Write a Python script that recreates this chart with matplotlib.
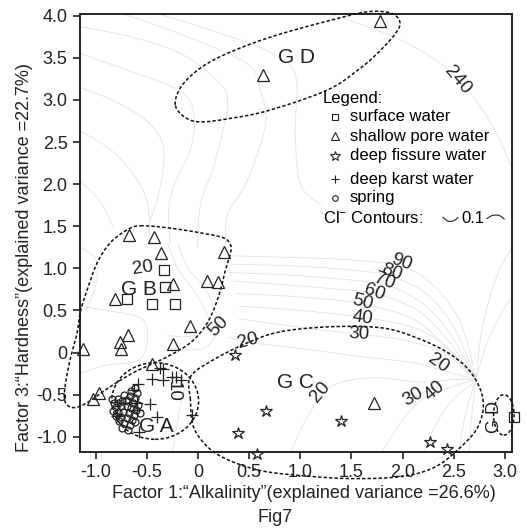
import numpy as np
import matplotlib
matplotlib.use("Agg")
import matplotlib.pyplot as plt
from matplotlib.patches import Ellipse
from matplotlib.ticker import FixedLocator, FixedFormatter

plt.rcParams['font.family'] = ['Liberation Sans', 'DejaVu Sans']
plt.rcParams['mathtext.fontset'] = 'custom'
plt.rcParams['mathtext.rm'] = 'Liberation Sans'

# ---------------- data ----------------
surface_x = [-0.337, -0.327, -0.70, -0.45, -0.23, 3.09]
surface_y = [0.975, 0.78, 0.64, 0.58, 0.58, -0.76]

shallow_x = [1.78, 0.63, -0.68, -0.435, -0.36, 0.25, -0.25, 0.088, 0.19, -0.81,
             -0.075, -0.69, -0.76, -0.755, -0.25, -1.13, -0.45, -0.97, -1.03, 1.72]
shallow_y = [3.94, 3.29, 1.40, 1.37, 1.18, 1.19, 0.82, 0.845, 0.84, 0.64,
             0.31, 0.21, 0.12, 0.04, 0.105, 0.04, -0.14, -0.48, -0.55, -0.60]

fissure_x = [0.36, 0.66, 0.39, 0.58, 1.40, 2.27, 2.43]
fissure_y = [-0.025, -0.69, -0.95, -1.20, -0.81, -1.065, -1.15]

karst_x = [-0.37, -0.34, -0.45, -0.34, -0.26, -0.22, -0.17, -0.59, -0.47, -0.40,
           -0.06, -0.60, -0.60, -0.79, -0.58, -0.63]
karst_y = [-0.18, -0.20, -0.31, -0.33, -0.29, -0.29, -0.32, -0.37, -0.61, -0.76,
           -0.74, -0.60, -0.68, -0.75, -0.94, -0.44]

spring_x = [-0.62, -0.66, -0.60, -0.72, -0.67, -0.62, -0.78, -0.74, -0.69, -0.64,
            -0.59, -0.82, -0.80, -0.75, -0.70, -0.66, -0.61, -0.83, -0.78, -0.73,
            -0.68, -0.63, -0.80, -0.75, -0.70, -0.65, -0.77, -0.72, -0.67, -0.62,
            -0.74, -0.69, -0.84, -0.78, -0.71, -0.57]
spring_y = [-0.42, -0.46, -0.48, -0.50, -0.52, -0.54, -0.55, -0.57, -0.58, -0.60,
            -0.62, -0.60, -0.65, -0.63, -0.64, -0.66, -0.68, -0.69, -0.70, -0.70,
            -0.72, -0.74, -0.75, -0.76, -0.78, -0.80, -0.81, -0.84, -0.86, -0.83,
            -0.89, -0.92, -0.55, -0.60, -0.56, -0.72]

x_ticks = [-1.0, -0.5, 0, 0.5, 1.0, 1.5, 2.0, 2.5, 3.0]
x_ticklabels = ["-1.0", "-0.5", "0", "0.5", "1.0", "1.5", "2.0", "2.5", "3.0"]
y_ticks = [-1.0, -0.5, 0, 0.5, 1.0, 1.5, 2.0, 2.5, 3.0, 3.5, 4.0]
y_ticklabels = ["-1.0", "-0.5", "0", "0.5", "1.0", "1.5", "2.0", "2.5", "3.0", "3.5", "4.0"]

# group outlines (closed smooth curves through these points)
gd_outline = [(-0.223, 2.941), (-0.174, 3.142), (-0.027, 3.332), (0.170, 3.486), (0.464, 3.641),
              (0.807, 3.783), (1.268, 3.937), (1.640, 4.044), (1.885, 4.032), (1.974, 3.925),
              (1.935, 3.795), (1.787, 3.593), (1.591, 3.380), (1.268, 3.119), (0.709, 2.881),
              (0.346, 2.786), (0.023, 2.739), (-0.134, 2.798)]
gb_outline = [(-0.565, 1.505), (-0.301, 1.482), (0.023, 1.422), (0.248, 1.363), (0.317, 1.280),
              (0.317, 1.185), (0.268, 0.983), (0.199, 0.663), (0.091, 0.354), (-0.075, 0.117),
              (-0.301, -0.049), (-0.448, -0.132), (-0.634, -0.239), (-0.860, -0.405),
              (-1.085, -0.595), (-1.222, -0.654), (-1.301, -0.583), (-1.301, -0.405),
              (-1.252, -0.085), (-1.183, 0.235), (-1.154, 0.472), (-1.085, 0.745),
              (-0.987, 1.066), (-0.860, 1.303), (-0.693, 1.458)]
gc_outline = [(-0.075, -0.559), (-0.075, -0.287), (0.151, -0.085), (0.484, 0.117), (0.807, 0.248),
              (1.297, 0.307), (1.787, 0.295), (2.111, 0.188), (2.444, -0.002), (2.670, -0.239),
              (2.787, -0.559), (2.738, -0.880), (2.542, -1.152), (2.307, -1.365), (1.983, -1.472),
              (1.493, -1.496), (1.003, -1.460), (0.611, -1.401), (0.288, -1.271), (0.091, -1.117),
              (-0.046, -0.880)]
ga_ellipse = (-0.42, -0.575, 0.85, 0.91)      # cx, cy, width, height
gd2_ellipse = (2.99, -0.74, 0.20, 0.48)

# Cl- contour lines
contour_lines = [
    [(-1.154, 3.87), (-0.66, 3.75), (-0.17, 3.55), (0.22, 3.19), (0.29, 2.95), (0.25, 2.68), (0.15, 2.2), (0.023, 1.76), (-0.006, 1.25)],
    [(-1.154, 3.55), (-0.66, 3.34), (-0.17, 3.1), (-0.04, 2.83), (-0.07, 2.44), (-0.24, 1.97), (-0.29, 1.65), (-0.27, 1.29)],
    [(-1.154, 3.15), (-0.83, 2.99), (-0.5, 2.75), (-0.34, 2.44), (-0.37, 1.97), (-0.47, 1.56)],
    [(-1.154, 2.63), (-0.89, 2.44), (-0.66, 2.16), (-0.5, 1.8), (-0.47, 1.29)],
    [(-1.154, 2.04), (-0.96, 1.8), (-0.83, 1.49)],
    [(-0.73, 4.02), (-0.17, 3.78), (0.48, 3.43), (0.61, 3.1), (0.66, 2.71), (0.48, 2.04), (0.29, 1.65), (0.27, 1.28)],
    [(-0.39, 4.02), (0.15, 3.82), (0.68, 3.58), (0.95, 3.3), (0.95, 2.6), (1.0, 2.0), (1.2, 1.75)],
    [(1.3, 4.02), (2.0, 3.7), (2.5, 3.3), (2.85, 2.75), (3.07, 2.2)],
    [(0.3, 1.15), (0.9, 1.13), (1.5, 1.1), (2.0, 1.02), (2.3, 0.8), (2.55, 0.4), (2.68, -0.1), (2.72, -0.32)],
    [(0.3, 1.05), (0.9, 1.03), (1.5, 0.98), (1.9, 0.9), (2.25, 0.68), (2.5, 0.3), (2.65, -0.1), (2.72, -0.32)],
    [(0.3, 0.95), (0.9, 0.92), (1.5, 0.86), (1.85, 0.8), (2.2, 0.58), (2.45, 0.25), (2.62, -0.1), (2.72, -0.32)],
    [(0.35, 0.85), (0.9, 0.8), (1.5, 0.74), (1.75, 0.7), (2.15, 0.5), (2.42, 0.18), (2.6, -0.12), (2.72, -0.32)],
    [(0.38, 0.7), (1.0, 0.66), (1.6, 0.58), (2.1, 0.4), (2.38, 0.12), (2.58, -0.15), (2.72, -0.32)],
    [(0.4, 0.55), (1.0, 0.5), (1.6, 0.42), (2.1, 0.3), (2.4, 0.1), (2.6, -0.15), (2.72, -0.32)],
    [(0.4, 0.4), (1.0, 0.3), (1.55, 0.22), (2.0, 0.15), (2.4, 0.0), (2.6, -0.2), (2.72, -0.32)],
    [(0.3, 0.18), (0.5, 0.12), (1.0, 0.05), (1.6, -0.05), (2.1, -0.12), (2.5, -0.25), (2.72, -0.32)],
    [(0.9, -1.18), (1.1, -0.7), (1.3, -0.4), (1.7, -0.3), (2.2, -0.35), (2.5, -0.32), (2.72, -0.32)],
    [(1.8, -1.18), (2.0, -0.8), (2.2, -0.55), (2.45, -0.42), (2.72, -0.32)],
    [(2.2, -1.18), (2.35, -0.8), (2.5, -0.55), (2.65, -0.4), (2.72, -0.32)],
    [(2.55, -1.18), (2.62, -0.7), (2.72, -0.32)],
    [(2.65, -1.18), (2.68, -0.7), (2.72, -0.32)],
    [(2.72, -0.32), (2.78, 0.3), (2.92, 0.9), (3.07, 1.25)],
    [(2.72, -0.32), (2.82, 0.1), (2.98, 0.5), (3.07, 0.65)],
    [(-1.154, 1.25), (-1.0, 1.1), (-1.0, 0.8), (-1.1, 0.5)],
    [(-0.3, 1.3), (-0.2, 1.0), (-0.05, 0.75), (0.05, 0.55), (0.1, 0.35), (-0.05, 0.2), (-0.3, 0.2)],
    [(-0.2, 1.3), (-0.1, 1.0), (0.05, 0.8), (0.15, 0.55), (0.2, 0.3), (0.05, 0.05), (-0.3, 0.05)],
    [(-1.154, -0.25), (-0.9, -0.15), (-0.6, -0.1), (-0.5, 0.1), (-0.55, 0.4), (-0.9, 0.5), (-1.154, 0.55)],
    [(-0.05, -0.2), (-0.15, -0.5), (-0.2, -0.8), (-0.25, -1.18)],
]

contour_labels = ["240", "90", "80", "70", "60", "50", "40", "30", "20", "20", "50", "20", "30", "40", "10", "20"]
contour_label_x = [2.54, 1.99, 1.89, 1.82, 1.72, 1.61, 1.61, 1.57, 2.35, 0.49, 0.20, 1.20, 2.10, 2.31, -0.24, -0.54]
contour_label_y = [3.24, 1.07, 0.95, 0.84, 0.72, 0.60, 0.41, 0.22, -0.13, 0.14, 0.31, -0.47, -0.53, -0.45, -0.46, 1.00]
contour_label_rot = [-50, -20, -20, -20, -20, -15, -8, -3, -35, 15, 45, 50, 30, 40, -90, 8]

group_labels = ["G D", "G B", "G C", "G A", "G D"]
group_label_x = [0.967, -0.58, 0.95, -0.41, 2.90]
group_label_y = [3.50, 0.745, -0.35, -0.88, -0.77]
group_label_rot = [0, 0, 0, 0, 90]


def smooth_closed(pts, n=24):
    P = np.asarray(pts, float)
    m = len(P)
    t = np.linspace(0, 1, n, endpoint=False)[:, None]
    segs = []
    for i in range(m):
        p0, p1, p2, p3 = P[i - 1], P[i], P[(i + 1) % m], P[(i + 2) % m]
        segs.append(0.5 * (2 * p1 + (-p0 + p2) * t + (2 * p0 - 5 * p1 + 4 * p2 - p3) * t ** 2
                           + (-p0 + 3 * p1 - 3 * p2 + p3) * t ** 3))
    out = np.vstack(segs)
    return np.vstack([out, out[:1]])


def smooth_open(pts, n=20):
    P = np.asarray(pts, float)
    P = np.vstack([P[:1], P, P[-1:]])
    t = np.linspace(0, 1, n, endpoint=False)[:, None]
    segs = []
    for i in range(1, len(P) - 2):
        p0, p1, p2, p3 = P[i - 1], P[i], P[i + 1], P[i + 2]
        segs.append(0.5 * (2 * p1 + (-p0 + p2) * t + (2 * p0 - 5 * p1 + 4 * p2 - p3) * t ** 2
                           + (-p0 + 3 * p1 - 3 * p2 + p3) * t ** 3))
    segs.append(P[-2:-1])
    return np.vstack(segs)


fig = plt.figure(figsize=(5.27, 5.28), dpi=100)
ax = fig.add_axes([0.152, 0.144, 0.8195, 0.8295])
ax.set_xlim(-1.154, 3.07)
ax.set_ylim(-1.18, 4.02)

# contours
for line in contour_lines:
    c = smooth_open(line)
    ax.plot(c[:, 0], c[:, 1], color='#e0e0e0', lw=0.55, zorder=1)
for lab, lx, ly, rot in zip(contour_labels, contour_label_x, contour_label_y, contour_label_rot):
    ax.text(lx, ly, lab, rotation=rot, fontsize=13.5, ha='center', va='center',
            color='#222222', zorder=2)

# group outlines
dash = dict(color='#111111', lw=1.1, ls=(0, (2.2, 1.4)), clip_on=False, zorder=3)
for outline in (gd_outline, gb_outline, gc_outline):
    c = smooth_closed(outline)
    ax.plot(c[:, 0], c[:, 1], **dash)
for (cx, cy, w, h) in (ga_ellipse, gd2_ellipse):
    ax.add_patch(Ellipse((cx, cy), w, h, fill=False, edgecolor='#111111', lw=1.1,
                         ls=(0, (2.2, 1.4)), clip_on=False, zorder=3))

for lab, lx, ly, rot in zip(group_labels, group_label_x, group_label_y, group_label_rot):
    ax.text(lx, ly, lab, rotation=rot, fontsize=15 if rot == 0 else 13,
            ha='center', va='center', color='#222222', zorder=4)

# points
mk = dict(ls='none', mfc='none', mec='#222222', mew=0.9, clip_on=False, zorder=5)
ax.plot(spring_x, spring_y, marker='o', ms=5, **mk)
ax.plot(surface_x, surface_y, marker='s', ms=6.5, **mk)
ax.plot(shallow_x, shallow_y, marker='^', ms=8, **mk)
ax.plot(fissure_x, fissure_y, marker='*', ms=9, **mk)
ax.plot(karst_x, karst_y, marker='+', ms=8, **mk)

# legend-like text block
lx_marker, lx_text = 0.590, 0.624
ax.text(0.562, 0.808, "Legend:", transform=ax.transAxes, fontsize=12, va='center', ha='left')
legend_items = [("s", "surface water", 0.765, 5), ("^", "shallow pore water", 0.721, 6),
                ("*", "deep fissure water", 0.676, 7), ("+", "deep karst water", 0.623, 6),
                ("o", "spring", 0.580, 4)]
for m, lab, yy, ms in legend_items:
    ax.plot([lx_marker], [yy], marker=m, ms=ms, ls='none', mfc='none', mec='#222222',
            mew=0.8, transform=ax.transAxes)
    ax.text(lx_text, yy, lab, transform=ax.transAxes, fontsize=12, va='center', ha='left')
ax.text(0.562, 0.534, r"Cl$^{-}$ Contours:", transform=ax.transAxes, fontsize=12,
        va='center', ha='left')
wave_left = [(0.840, 0.536), (0.852, 0.527), (0.865, 0.528), (0.875, 0.535)]
wave_right = [(0.942, 0.533), (0.955, 0.540), (0.970, 0.540), (0.982, 0.532)]
for w in (wave_left, wave_right):
    c = smooth_open(w)
    ax.plot(c[:, 0], c[:, 1], color='#222222', lw=0.8, transform=ax.transAxes)
ax.text(0.909, 0.532, "0.1", transform=ax.transAxes, fontsize=12, va='center', ha='center')

# axes styling
ax.xaxis.set_major_locator(FixedLocator(x_ticks))
ax.xaxis.set_major_formatter(FixedFormatter(x_ticklabels))
ax.yaxis.set_major_locator(FixedLocator(y_ticks))
ax.yaxis.set_major_formatter(FixedFormatter(y_ticklabels))
ax.tick_params(direction='out', length=5, width=1.2, labelsize=13, colors='#222222', pad=4)
for s in ax.spines.values():
    s.set_linewidth(1.4)
    s.set_color('#222222')

ax.set_xlabel("Factor 1:\u201cAlkalinity\u201d(explained variance =26.6%)", fontsize=13, color='#222222')
ax.xaxis.set_label_coords(0.517, -0.076)
ax.set_ylabel("Factor 3:\u201cHardness\u201d(explained variance =22.7%)", fontsize=13, color='#222222')
ax.yaxis.set_label_coords(-0.11, 0.445)
fig.text(275 / 527, 1 - 518 / 528, "Fig7", fontsize=13, ha='center', va='center', color='#222222')

fig.savefig("out.png", dpi=100)
